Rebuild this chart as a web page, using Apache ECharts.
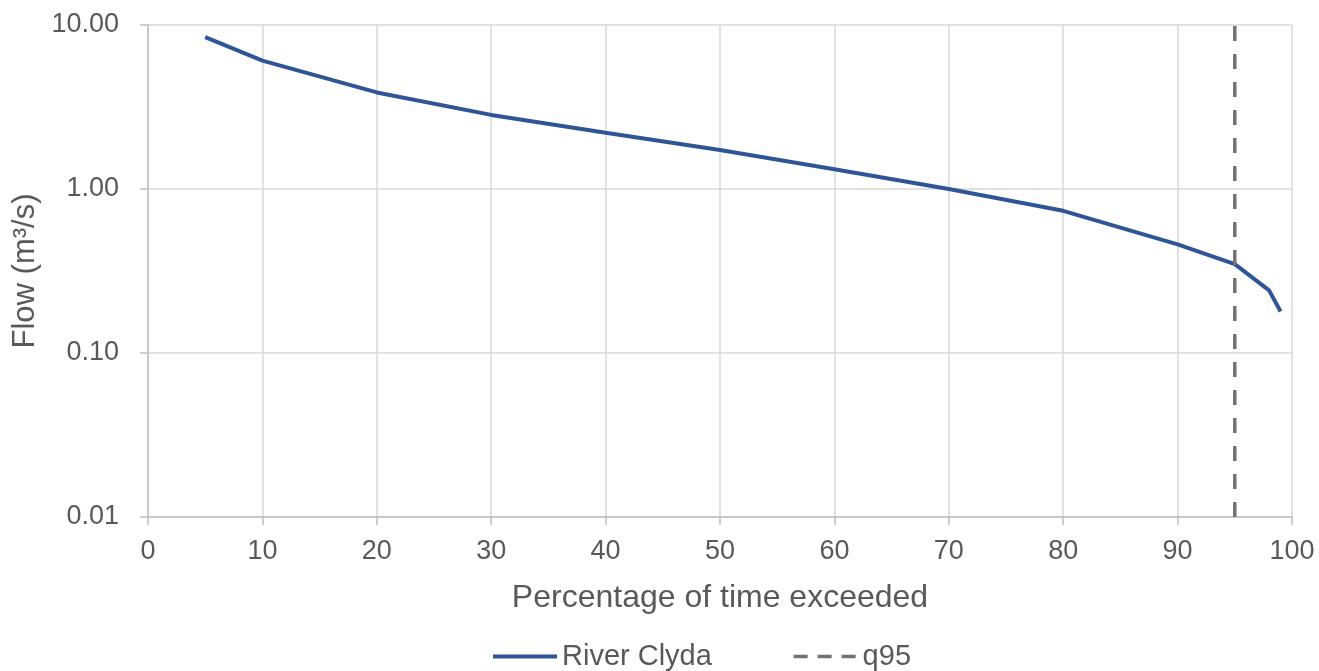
<!DOCTYPE html>
<html>
<head>
<meta charset="utf-8">
<script src="https://cdn.jsdelivr.net/npm/echarts@6/dist/echarts.min.js"></script>
<style>
html,body{margin:0;padding:0;background:#fff;}
#chart{width:1319px;height:671px;}
</style>
</head>
<body>
<div id="chart"></div>
<script>
// Data
var exceedance = [5, 10, 20, 30, 40, 50, 60, 70, 80, 90, 95, 98, 99];
var flowClyda  = [8.44, 6.07, 3.88, 2.83, 2.20, 1.73, 1.32, 1.00, 0.736, 0.46, 0.348, 0.241, 0.179];
var q95X = [95, 95];
var q95Y = [0.01, 10];
var seriesNames = ['River Clyda', 'q95'];
var xTitle = 'Percentage of time exceeded';
var yTitle = 'Flow (m³/s)';

var clydaData = exceedance.map(function (x, i) { return [x, flowClyda[i]]; });
var q95Data = q95X.map(function (x, i) { return [x, q95Y[i]]; });

var textColor = '#595959';
var font = 'Liberation Sans, Arial, sans-serif';

var chart = echarts.init(document.getElementById('chart'), null, {renderer: 'canvas'});
chart.setOption({
  animation: false,
  backgroundColor: '#ffffff',
  grid: {left: 148, right: 27, top: 25, bottom: 154, containLabel: false},
  legend: {
    data: [
      {name: seriesNames[0], lineStyle: {width: 4}},
      {name: seriesNames[1], lineStyle: {type: [14, 10], width: 3.5}}
    ],
    left: 486,
    top: 637,
    itemWidth: 64,
    itemHeight: 14,
    itemGap: 80,
    itemStyle: {opacity: 0},
    textStyle: {color: textColor, fontSize: 29, fontFamily: font}
  },
  xAxis: {
    type: 'value',
    min: 0,
    max: 100,
    interval: 10,
    name: xTitle,
    nameLocation: 'middle',
    nameGap: 65,
    nameTextStyle: {color: textColor, fontSize: 32, fontFamily: font},
    axisLine: {show: true, lineStyle: {color: '#BFBFBF', width: 1.5}},
    axisTick: {show: true, length: 8, lineStyle: {color: '#BFBFBF', width: 1.5}},
    axisLabel: {color: textColor, fontSize: 27, fontFamily: font, margin: 21},
    splitLine: {show: true, lineStyle: {color: '#D9D9D9', width: 1.5}}
  },
  yAxis: {
    type: 'log',
    logBase: 10,
    min: 0.01,
    max: 10,
    name: yTitle,
    nameLocation: 'middle',
    nameGap: 107,
    nameTextStyle: {color: textColor, fontSize: 31, fontFamily: font},
    axisLine: {show: true, lineStyle: {color: '#BFBFBF', width: 1.5}},
    axisTick: {show: true, length: 8, lineStyle: {color: '#BFBFBF', width: 1.5}},
    axisLabel: {
      color: textColor, fontSize: 27, fontFamily: font, margin: 29,
      formatter: function (v) { return Number(v).toFixed(2); }
    },
    splitLine: {show: true, lineStyle: {color: '#D9D9D9', width: 1.5}}
  },
  series: [
    {
      name: seriesNames[0],
      type: 'line',
      data: clydaData,
      symbol: 'none',
      smooth: false,
      lineStyle: {color: '#2F5597', width: 4},
      itemStyle: {color: '#2F5597'}
    },
    {
      name: seriesNames[1],
      type: 'line',
      data: q95Data,
      symbol: 'none',
      lineStyle: {color: '#767171', width: 3.5, type: [15, 13]},
      itemStyle: {color: '#767171'}
    }
  ]
});
</script>
</body>
</html>
